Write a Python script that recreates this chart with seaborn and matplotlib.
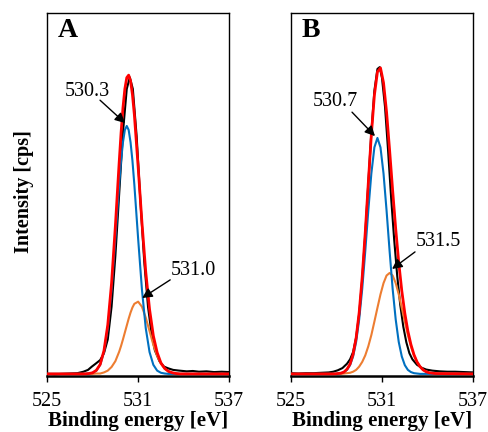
import matplotlib
matplotlib.use("Agg")
import matplotlib.pyplot as plt
import seaborn as sns
import pandas as pd

# ---------------- data ----------------
x_ticks = [525, 531, 537]
x_label = "Binding energy [eV]"
y_label = "Intensity [cps]"
panel_labels = ["A", "B"]
peak_labels_A = ["530.3", "531.0"]
peak_labels_B = ["530.7", "531.5"]

# Panel A  - measured spectrum
a_meas_x = [525.0, 525.5, 526.0, 526.5, 527.0, 527.4, 527.7, 527.95, 528.2, 528.5, 528.75,
            529.0, 529.25, 529.5, 529.75, 530.0, 530.25, 530.45, 530.65, 530.9, 531.15,
            531.4, 531.65, 531.9, 532.1, 532.4, 532.7, 533.0, 533.3, 533.7, 534.2, 534.6,
            535.0, 535.5, 536.0, 536.5, 537.0]
a_meas_y = [0.005, 0.004, 0.005, 0.006, 0.007, 0.011, 0.016, 0.025, 0.033, 0.043, 0.062,
            0.100, 0.190, 0.330, 0.500, 0.670, 0.790, 0.822, 0.790, 0.660, 0.480,
            0.315, 0.190, 0.110, 0.070, 0.040, 0.025, 0.020, 0.016, 0.014, 0.012, 0.013,
            0.011, 0.012, 0.010, 0.011, 0.010]
# Panel A - fit components and envelope
a_fit_x = [525.0, 527.5, 527.75, 528.0, 528.25, 528.5, 528.75, 529.0, 529.25, 529.5, 529.75,
           529.875, 530.0, 530.125, 530.25, 530.375, 530.5, 530.625, 530.75, 531.0, 531.25,
           531.5, 531.75, 532.0, 532.25, 532.5, 532.75, 533.0, 533.25, 533.5, 533.75, 534.0,
           537.0]
a_peak1_y = [0.005, 0.005, 0.006, 0.008, 0.014, 0.030, 0.065, 0.131, 0.237, 0.377, 0.526,
             0.592, 0.643, 0.677, 0.688, 0.677, 0.643, 0.592, 0.526, 0.377, 0.237,
             0.131, 0.065, 0.030, 0.014, 0.008, 0.006, 0.005, 0.005, 0.005, 0.005, 0.005,
             0.005]
a_peak2_y = [0.005, 0.005, 0.005, 0.005, 0.006, 0.006, 0.009, 0.014, 0.024, 0.040, 0.066,
             0.082, 0.100, 0.119, 0.138, 0.157, 0.174, 0.188, 0.198, 0.204, 0.190,
             0.160, 0.123, 0.085, 0.055, 0.033, 0.019, 0.011, 0.008, 0.006, 0.005, 0.005,
             0.005]
a_env_y = [0.005, 0.005, 0.006, 0.008, 0.015, 0.031, 0.069, 0.140, 0.255, 0.412, 0.587,
           0.669, 0.738, 0.790, 0.821, 0.828, 0.812, 0.774, 0.719, 0.575, 0.422,
           0.286, 0.183, 0.110, 0.064, 0.035, 0.020, 0.012, 0.008, 0.006, 0.005, 0.005,
           0.005]

# Panel B - measured spectrum
b_meas_x = [525.0, 525.5, 526.0, 526.5, 527.0, 527.5, 527.8, 528.1, 528.4, 528.7, 528.9,
            529.1, 529.3, 529.5, 529.7, 529.9, 530.1, 530.3, 530.5, 530.7, 530.85, 531.0,
            531.2, 531.4, 531.6, 531.8, 532.0, 532.2, 532.4, 532.6, 532.8, 533.0, 533.3,
            533.6, 533.9, 534.3, 534.8, 535.3, 535.8, 536.4, 537.0]
b_meas_y = [0.007, 0.006, 0.007, 0.007, 0.008, 0.009, 0.011, 0.015, 0.021, 0.033, 0.045,
            0.065, 0.105, 0.170, 0.265, 0.390, 0.530, 0.670, 0.785, 0.845, 0.850, 0.820,
            0.740, 0.620, 0.490, 0.375, 0.275, 0.195, 0.135, 0.092, 0.062, 0.045, 0.030,
            0.022, 0.017, 0.014, 0.012, 0.011, 0.011, 0.010, 0.009]
# Panel B - fit components and envelope
b_fit_x = [525.0, 527.5, 527.7, 527.9, 528.1, 528.3, 528.5, 528.7, 528.9, 529.1, 529.3,
           529.5, 529.7, 529.9, 530.1, 530.3, 530.5, 530.7, 530.9, 531.1, 531.3,
           531.5, 531.7, 531.9, 532.1, 532.3, 532.5, 532.7, 532.9, 533.1, 533.3,
           533.5, 533.7, 533.9, 534.1, 534.3, 534.5, 537.0]
b_peak1_y = [0.005, 0.005, 0.005, 0.005, 0.006, 0.007, 0.010, 0.016, 0.029, 0.053, 0.093,
             0.155, 0.239, 0.343, 0.455, 0.557, 0.629, 0.655, 0.629, 0.557, 0.455,
             0.343, 0.239, 0.155, 0.093, 0.053, 0.029, 0.016, 0.010, 0.007, 0.006,
             0.005, 0.005, 0.005, 0.005, 0.005, 0.005, 0.005]
b_peak2_y = [0.005, 0.005, 0.005, 0.005, 0.005, 0.005, 0.006, 0.007, 0.008, 0.011, 0.016,
             0.025, 0.038, 0.056, 0.081, 0.112, 0.149, 0.187, 0.224, 0.255, 0.276,
             0.283, 0.276, 0.255, 0.224, 0.187, 0.149, 0.112, 0.081, 0.056, 0.038,
             0.025, 0.016, 0.011, 0.008, 0.007, 0.006, 0.005]
b_env_y = [0.005, 0.005, 0.005, 0.005, 0.006, 0.007, 0.010, 0.018, 0.032, 0.059, 0.104,
           0.174, 0.272, 0.395, 0.531, 0.664, 0.773, 0.837, 0.848, 0.807, 0.726,
           0.621, 0.510, 0.405, 0.312, 0.234, 0.172, 0.123, 0.086, 0.058, 0.038,
           0.025, 0.016, 0.011, 0.008, 0.007, 0.006, 0.005]

# ---------------- style ----------------
sns.set_style("ticks")
plt.rcParams["font.family"] = ["Liberation Serif", "DejaVu Serif"]
plt.rcParams["axes.linewidth"] = 1.0
plt.rcParams["text.color"] = "black"
plt.rcParams["axes.labelcolor"] = "black"
plt.rcParams["xtick.color"] = "black"
plt.rcParams["ytick.color"] = "black"
plt.rcParams["axes.edgecolor"] = "black"

COL_MEAS = "#000000"
COL_P1 = "#0070C0"
COL_P2 = "#ED7D31"
COL_ENV = "#FF0000"

fig = plt.figure(figsize=(4.89, 4.32), dpi=100)
W, H = 489.0, 432.0
axA = fig.add_axes([47 / W, 1 - 375.7 / H, 182.3 / W, 363 / H])
axB = fig.add_axes([290.7 / W, 1 - 375.7 / H, 182.6 / W, 363 / H])


def draw_panel(ax, mx, my, fx, p1, p2, env, letter, labels, text_pos, arrows):
    df_m = pd.DataFrame({"x": mx, "y": my})
    df_f = pd.DataFrame({"x": fx, "p1": p1, "p2": p2, "env": env})
    sns.lineplot(data=df_m, x="x", y="y", ax=ax, color=COL_MEAS, lw=1.5,
                 estimator=None, zorder=2)
    sns.lineplot(data=df_f, x="x", y="p2", ax=ax, color=COL_P2, lw=1.5,
                 estimator=None, zorder=3)
    sns.lineplot(data=df_f, x="x", y="p1", ax=ax, color=COL_P1, lw=1.5,
                 estimator=None, zorder=4)
    sns.lineplot(data=df_f, x="x", y="env", ax=ax, color=COL_ENV, lw=2.0,
                 estimator=None, zorder=5)
    ax.set_xlim(525, 537)
    ax.set_ylim(0, 1)
    ax.set_xticks(x_ticks)
    ax.set_xticklabels([str(t) for t in x_ticks])
    ax.set_yticks([])
    ax.set_ylabel("")
    ax.set_xlabel(x_label, fontsize=15, fontweight="bold", color="black")
    ax.xaxis.set_label_coords(0.5, -0.098)
    ax.tick_params(axis="x", direction="out", length=4, width=1, labelsize=14.5,
                   pad=8, colors="black")
    for s in ax.spines.values():
        s.set_visible(True)
        s.set_color("black")
        s.set_linewidth(1.0)
    ax.spines["bottom"].set_linewidth(1.8)
    ax.text(0.06, 0.932, letter, transform=ax.transAxes, fontsize=20,
            fontweight="bold", va="baseline", ha="left", color="black")
    for lab, (tx, ty), (tail, tip) in zip(labels, text_pos, arrows):
        ax.text(tx, ty, lab, fontsize=14.5, ha="center", va="center", zorder=6,
                color="black")
        ax.annotate("", xy=tip, xytext=tail,
                    arrowprops=dict(arrowstyle="-|>", color="black", lw=1.0,
                                    mutation_scale=15, shrinkA=0, shrinkB=0),
                    zorder=6)


draw_panel(axA, a_meas_x, a_meas_y, a_fit_x, a_peak1_y, a_peak2_y, a_env_y,
           panel_labels[0], peak_labels_A,
           [(527.64, 0.784), (534.62, 0.291)],
           [((528.49, 0.759), (530.14, 0.696)), ((533.11, 0.264), (531.26, 0.214))])
draw_panel(axB, b_meas_x, b_meas_y, b_fit_x, b_peak1_y, b_peak2_y, b_env_y,
           panel_labels[1], peak_labels_B,
           [(527.91, 0.754), (534.68, 0.371)],
           [((529.03, 0.726), (530.54, 0.660)), ((533.17, 0.341), (531.66, 0.294))])

fig.text(24 / W, 1 - 191.5 / H, y_label, rotation=90, ha="center", va="center",
         fontsize=14.5, fontweight="bold", color="black")

fig.savefig("out.png", dpi=100)
